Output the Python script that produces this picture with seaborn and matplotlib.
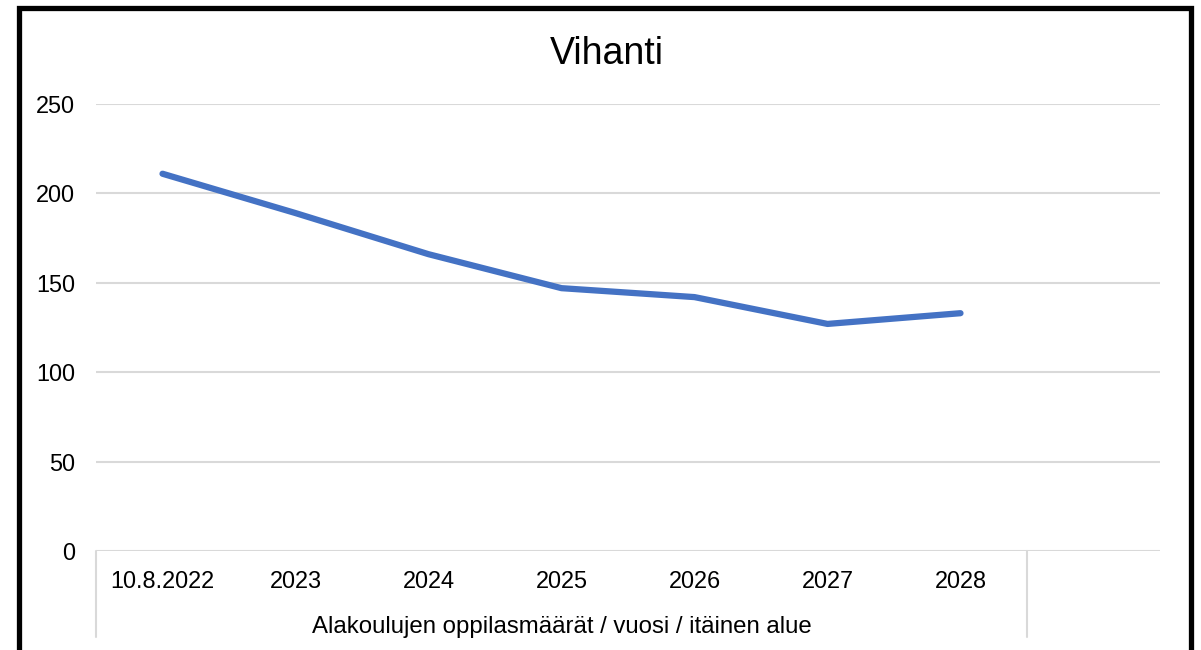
import numpy as np
import pandas as pd
import matplotlib.pyplot as plt
import matplotlib.transforms as mtransforms
from matplotlib.patches import Rectangle
import seaborn as sns

# chart data
categories = ["10.8.2022", "2023", "2024", "2025", "2026", "2027", "2028"]
pupils = [211, 189, 166, 147, 142, 127, 133]
group_label = "Alakoulujen oppilasmäärät / vuosi / itäinen alue"
title = "Vihanti"
yticks = [0, 50, 100, 150, 200, 250]

df = pd.DataFrame({"vuosi": categories, "oppilaat": pupils})

sns.set_theme(style="white")
plt.rcParams['font.family'] = ['Liberation Sans', 'DejaVu Sans']
plt.rcParams['text.color'] = 'black'
plt.rcParams['xtick.color'] = 'black'
plt.rcParams['ytick.color'] = 'black'

fig = plt.figure(figsize=(12.01, 6.5), dpi=100)
ax = fig.add_axes([96 / 1201, 99 / 650, 1064 / 1201, 447 / 650])

grid_col = "#d9d9d9"
for v in yticks:
    ax.axhline(v, color=grid_col, lw=1.5, zorder=0)

sns.lineplot(data=df, x="vuosi", y="oppilaat", sort=False, ax=ax,
             color="#4472C4", lw=4.5, solid_capstyle="round", legend=False)

ax.set_xlim(-0.5, len(categories) + 0.5)
ax.set_ylim(0, 250)
ax.set_yticks(yticks)
ax.set_yticklabels([str(v) for v in yticks], fontsize=16.9)
ax.set_xticks(range(len(categories)))
ax.set_xticklabels(categories, fontsize=16.9)
ax.tick_params(axis="both", length=0)
ax.tick_params(axis="y", pad=15)
ax.tick_params(axis="x", pad=14)
for s in ax.spines.values():
    s.set_visible(False)
ax.set_xlabel("")
ax.set_ylabel("")

# multi-level category axis separators
trans = mtransforms.blended_transform_factory(ax.transData, ax.transAxes)
for xb in [-0.5, len(categories) - 0.5]:
    ax.plot([xb, xb], [0, -0.192], transform=trans, color=grid_col, lw=1.5,
            clip_on=False)
ax.text((len(categories) - 1) / 2, -0.171, group_label, transform=trans,
        ha="center", va="center", fontsize=17.3)

fig.text(607 / 1201, 1 - 54 / 650, title, ha="center", va="center", fontsize=27)

# black frame around the chart
fig.patches.append(Rectangle((18.5 / 1201, -0.1), (1191 - 18.5) / 1201,
                             1.1 - 8.5 / 650, transform=fig.transFigure,
                             fill=False, ec="black", lw=3.8, zorder=10))

fig.savefig("out.png", dpi=100)
